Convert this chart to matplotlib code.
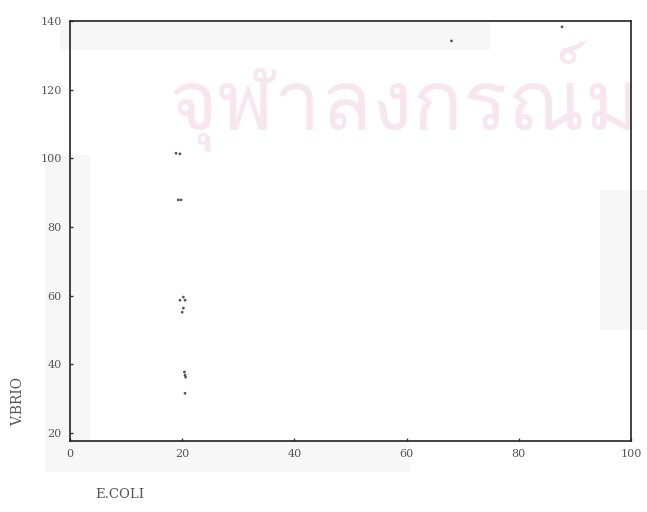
import matplotlib
matplotlib.use("Agg")
import matplotlib.pyplot as plt
from matplotlib import font_manager
from matplotlib.patches import Rectangle

# E. coli vs Vibrio counts
ecoli = [18.9, 19.6, 19.3, 19.8, 20.2, 19.6, 20.5, 20.2, 20.0, 20.4, 20.5, 20.6, 20.5, 68.0, 87.7]
vibrio = [101.5, 101.3, 87.9, 87.9, 59.6, 58.7, 58.7, 56.4, 55.2, 37.8, 36.9, 36.3, 31.6, 134.2, 138.3]

x_ticks = [0, 20, 40, 60, 80, 100]
x_labels = ["0", "20", "40", "60", "80", "100"]
y_ticks = [20, 40, 60, 80, 100, 120, 140]
y_labels = ["20", "40", "60", "80", "100", "120", "140"]

x_title = "E.COLI"
y_title = "V.BRIO"
watermark = "จุฬาลงกรณ์ม"


def thai_family():
    try:
        from fontTools.ttLib import TTFont
    except Exception:
        return None
    for f in font_manager.fontManager.ttflist:
        try:
            tt = TTFont(f.fname, fontNumber=0, lazy=True)
            cmap = tt.getBestCmap()
            if cmap and 0x0E08 in cmap and 0x0E2D in cmap:
                return f.name
        except Exception:
            continue
    return None


W, H = 647, 512
fig = plt.figure(figsize=(W / 100, H / 100), dpi=100)
fig.patch.set_facecolor("white")

# faint grey scan patches behind everything
for (x0, y0, w, h) in [(60, 22, 430, 28), (45, 155, 45, 285), (45, 440, 365, 32), (600, 190, 47, 140)]:
    fig.patches.append(Rectangle((x0 / W, 1 - (y0 + h) / H), w / W, h / H,
                                 transform=fig.transFigure, facecolor="#f7f7f7",
                                 edgecolor="none", zorder=-2))

fam = thai_family()
wm_kw = dict(family=[fam, "DejaVu Sans"]) if fam else {}
fig.text(168 / W, 1 - 130 / H, watermark, fontsize=60, color="#f8e6ee",
         ha="left", va="baseline", zorder=-1, **wm_kw)

ax = fig.add_axes([70 / W, 1 - 441 / H, 561 / W, 420 / H])
ax.set_zorder(1)
ax.set_facecolor("none")
ax.scatter(ecoli, vibrio, s=4, color="#555555", edgecolors="none", zorder=3)

ax.set_xlim(0, 100)
ax.set_ylim(17.7, 140)
ax.set_xticks(x_ticks)
ax.set_xticklabels(x_labels)
ax.set_yticks(y_ticks)
ax.set_yticklabels(y_labels)
ax.tick_params(direction="in", length=2, width=1, colors="#333333",
               labelsize=8, labelcolor="#555555", pad=6)
for lab in ax.get_xticklabels() + ax.get_yticklabels():
    lab.set_family("DejaVu Serif")
for s in ax.spines.values():
    s.set_color("#222222")
    s.set_linewidth(1.2)

fig.text(18 / W, 1 - 402 / H, y_title, rotation=90, ha="center", va="center",
         fontsize=10, color="#555555", family="DejaVu Serif")
fig.text(95 / W, 1 - 494 / H, x_title, ha="left", va="center",
         fontsize=9.5, color="#555555", family="DejaVu Serif")

fig.savefig("out.png", dpi=100)
